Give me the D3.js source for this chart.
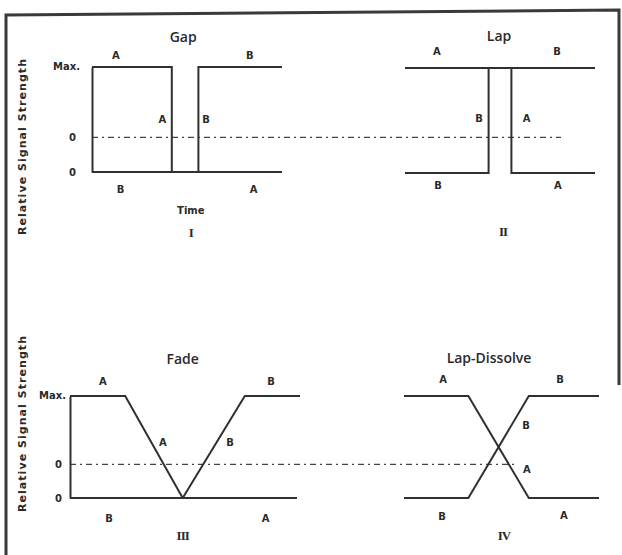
<!DOCTYPE html>
<html>
<head>
<meta charset="utf-8">
<style>
    body { margin: 0; background: #fff; }
    svg { display: block; }
    .lbl { font-family: 'DejaVu Sans', sans-serif; font-weight: bold; font-size: 10px; fill: #2a2a2a; }
    .title { font-family: 'Open Sans', 'DejaVu Sans', sans-serif; font-weight: 600; font-size: 14px; fill: #2a2a2a; }
    .roman { font-family: 'Liberation Serif', serif; font-weight: bold; font-size: 13px; fill: #2a2a2a; }
    .ytitle { font-family: 'DejaVu Sans', sans-serif; font-weight: bold; font-size: 11px; fill: #2a2a2a; }
    .tick text { font-family: 'DejaVu Sans', sans-serif; font-weight: bold; font-size: 10px; fill: #2a2a2a; }
</style>
</head>
<body>
<svg width="622" height="555"></svg>

<script src="https://d3js.org/d3.v7.min.js"></script>
<script>
    // signal levels: 1 = Max., 0 = zero, threshold line at 0.33
    let threshold = 0.33;
    let tickValues = [0, threshold, 1];
    let tickLabels = ["0", "0", "Max."];

    // time / level points for each panel
    let gapA = [[0, 1], [4.2, 1], [4.2, 0], [10, 0]];
    let gapB = [[0, 0], [5.6, 0], [5.6, 1], [10, 1]];

    let lapA = [[0, 1], [5.6, 1], [5.6, 0], [10, 0]];
    let lapB = [[0, 0], [4.4, 0], [4.4, 1], [10, 1]];

    let fadeA = [[0, 1], [2.4, 1], [4.9, 0], [9.87, 0]];
    let fadeB = [[0, 0], [4.9, 0], [7.6, 1], [10, 1]];

    let dissA = [[0, 1], [3.3, 1], [6.4, 0], [10, 0]];
    let dissB = [[0, 0], [3.3, 0], [6.4, 1], [10, 1]];

    // annotations [text, time, level, class]
    let gapLabels = [["Gap", 4.8, 1.29, "title"], ["A", 1.26, 1.11], ["B", 8.3, 1.11],
        ["A", 3.7, 0.5], ["B", 6.0, 0.5], ["B", 1.5, -0.17], ["A", 8.5, -0.17],
        ["Time", 5.2, -0.37], ["I", 5.2, -0.58, "roman"]];
    let lapLabels = [["Lap", 4.95, 1.31, "title"], ["A", 1.68, 1.16], ["B", 8.0, 1.16],
        ["B", 3.9, 0.52], ["A", 6.4, 0.52], ["B", 1.74, -0.12], ["A", 8.05, -0.12],
        ["II", 5.16, -0.56, "roman"]];
    let fadeLabels = [["Fade", 4.9, 1.37, "title"], ["A", 1.43, 1.14], ["B", 8.74, 1.14],
        ["A", 4.04, 0.54], ["B", 6.96, 0.54], ["B", 1.7, -0.2], ["A", 8.5, -0.2],
        ["III", 4.9, -0.37, "roman"]];
    let dissLabels = [["Lap-Dissolve", 4.36, 1.38, "title"], ["A", 2.0, 1.16], ["B", 8.0, 1.16],
        ["B", 6.26, 0.71], ["A", 6.3, 0.28], ["B", 1.95, -0.18], ["A", 8.2, -0.17],
        ["IV", 5.13, -0.37, "roman"]];

    let svg = d3.select("svg");
    let ink = "#303030";

    // frame
    svg.append("path")
        .attr("d", "M6,555 L6,15 L619,10 L619,385")
        .attr("fill", "none")
        .attr("stroke", "#3a3a3a")
        .attr("stroke-width", 3);

    let panels = [
        { x: [92, 282], y: [172, 67], a: gapA, b: gapB, labels: gapLabels, axis: 16, dash: 561 },
        { x: [405, 595], y: [173, 68], a: lapA, b: lapB, labels: lapLabels },
        { x: [70, 300], y: [498, 396], a: fadeA, b: fadeB, labels: fadeLabels, axis: 8, dash: 518 },
        { x: [404, 599], y: [498, 396], a: dissA, b: dissB, labels: dissLabels }
    ];

    panels.forEach(p => {
        let x = d3.scaleLinear().domain([0, 10]).range(p.x);
        let y = d3.scaleLinear().domain([0, 1]).range(p.y);
        let g = svg.append("g");

        let line = d3.line()
            .x(d => x(d[0]))
            .y(d => y(d[1]));

        // threshold dashed line runs across into the next panel
        if (p.dash) {
            g.append("line")
                .attr("x1", x(0)).attr("x2", p.dash)
                .attr("y1", y(threshold)).attr("y2", y(threshold))
                .attr("stroke", "#444")
                .attr("stroke-width", 1.2)
                .attr("stroke-dasharray", "6,4,2,4");
        }

        if (p.axis) {
            let ax = g.append("g")
                .attr("transform", `translate(${x(0)},0)`)
                .call(d3.axisLeft(y)
                    .tickValues(tickValues)
                    .tickSize(0)
                    .tickPadding(p.axis)
                    .tickFormat((d, i) => tickLabels[i]));
            ax.select(".domain")
                .attr("stroke", ink)
                .attr("stroke-width", 2);
            ax.selectAll(".tick text")
                .filter((d, i) => i == 2)
                .attr("dx", 4)
                .attr("dy", "0.2em");
        }

        [p.a, p.b].forEach(s => {
            g.append("path")
                .attr("d", line(s))
                .attr("fill", "none")
                .attr("stroke", ink)
                .attr("stroke-width", 2);
        });

        g.selectAll(".ann")
            .data(p.labels)
            .join("text")
            .attr("class", d => d[3] || "lbl")
            .attr("x", d => x(d[1]))
            .attr("y", d => y(d[2]))
            .attr("text-anchor", "middle")
            .attr("dominant-baseline", "central")
            .attr("letter-spacing", d => d[3] == "roman" ? -1 : 0)
            .text(d => d[0]);
    });

    // y titles
    [147, 424].forEach(cy => {
        svg.append("text")
            .attr("class", "ytitle")
            .attr("transform", `translate(22,${cy}) rotate(-90)`)
            .attr("text-anchor", "middle")
            .attr("dominant-baseline", "central")
            .attr("textLength", 176)
            .text("Relative Signal Strength");
    });
</script>
</body>
</html>
